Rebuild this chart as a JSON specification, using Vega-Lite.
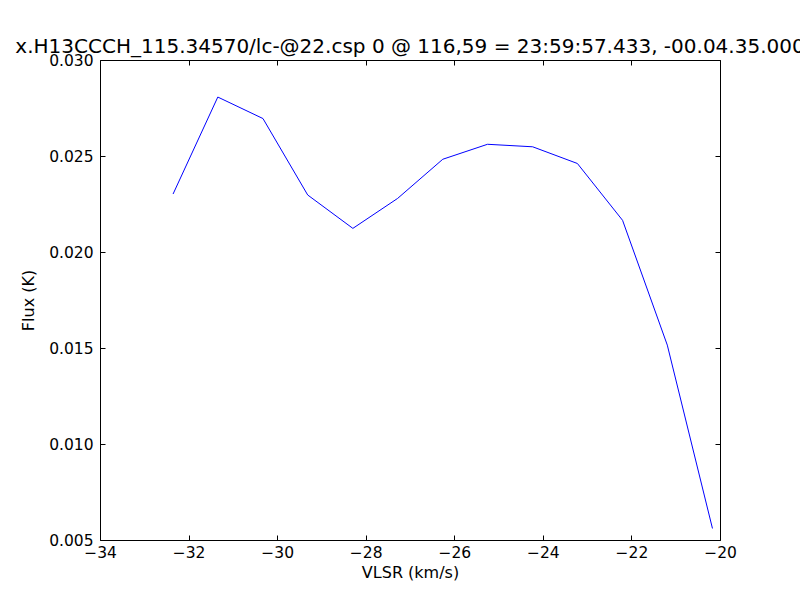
{
  "$schema": "https://vega.github.io/schema/vega-lite/v6.json",
  "width": 620,
  "height": 480,
  "autosize": {"type": "none"},
  "padding": {"left": 100, "top": 60, "right": 80, "bottom": 60},
  "background": "white",
  "config": {
    "view": {"stroke": null},
    "font": "DejaVu Sans",
    "axis": {
      "domainColor": "black",
      "domainWidth": 1,
      "tickColor": "black",
      "tickSize": -5,
      "grid": false,
      "labelFont": "DejaVu Sans",
      "labelFontSize": 15.5,
      "labelColor": "black",
      "titleFont": "DejaVu Sans",
      "titleFontSize": 16,
      "titleFontWeight": "normal",
      "titleColor": "black"
    }
  },
  "title": {
    "text": "x.H13CCCH_115.34570/lc-@22.csp 0 @ 116,59 = 23:59:57.433, -00.04.35.000",
    "font": "DejaVu Sans",
    "fontSize": 20,
    "fontWeight": "normal",
    "color": "black",
    "anchor": "middle",
    "offset": -4
  },
  "data": {
    "values": [
      {"v": -32.35, "f": 0.02302},
      {"v": -31.34, "f": 0.02807},
      {"v": -30.32, "f": 0.02695},
      {"v": -29.31, "f": 0.02297},
      {"v": -28.29, "f": 0.02123},
      {"v": -27.28, "f": 0.02279},
      {"v": -26.26, "f": 0.02483},
      {"v": -25.25, "f": 0.02561},
      {"v": -24.23, "f": 0.02548},
      {"v": -23.22, "f": 0.02461},
      {"v": -22.20, "f": 0.02165},
      {"v": -21.19, "f": 0.01515},
      {"v": -20.17, "f": 0.00560}
    ]
  },
  "layer": [
    {
      "mark": {"type": "line", "color": "#0000ff", "strokeWidth": 1},
      "encoding": {
        "x": {
          "field": "v", "type": "quantitative",
          "scale": {"domain": [-34, -20], "nice": false, "zero": false},
          "axis": {"orient": "bottom", "title": "VLSR (km/s)", "values": [-34, -32, -30, -28, -26, -24, -22, -20], "format": "d", "labelPadding": 10, "titlePadding": 4, "labelFlush": false, "labelOverlap": false}
        },
        "y": {
          "field": "f", "type": "quantitative",
          "scale": {"domain": [0.005, 0.03], "nice": false, "zero": false},
          "axis": {"orient": "left", "title": "Flux (K)", "values": [0.005, 0.01, 0.015, 0.02, 0.025, 0.03], "format": ".3f", "labelPadding": 12, "titlePadding": 12, "labelFlush": false, "labelOverlap": false}
        }
      }
    },
    {
      "mark": {"type": "line", "opacity": 0},
      "encoding": {
        "x": {
          "field": "v", "type": "quantitative",
          "scale": {"domain": [-34, -20], "nice": false, "zero": false},
          "axis": {"orient": "top", "title": null, "labels": false, "values": [-34, -32, -30, -28, -26, -24, -22, -20]}
        },
        "y": {
          "field": "f", "type": "quantitative",
          "scale": {"domain": [0.005, 0.03], "nice": false, "zero": false},
          "axis": {"orient": "right", "title": null, "labels": false, "values": [0.005, 0.01, 0.015, 0.02, 0.025, 0.03]}
        }
      }
    }
  ],
  "resolve": {"axis": {"x": "independent", "y": "independent"}}
}
